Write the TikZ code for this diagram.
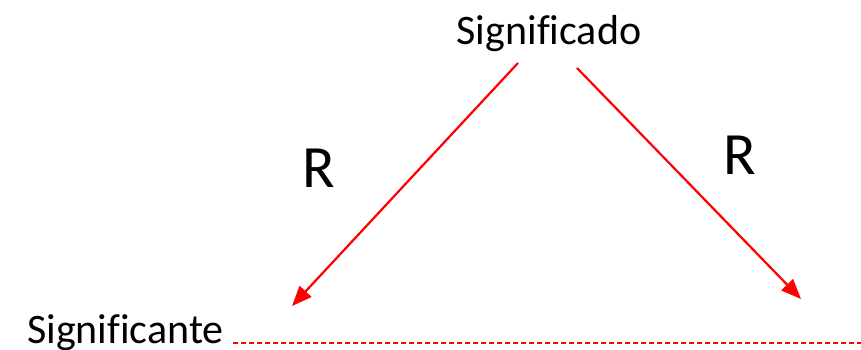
\documentclass[tikz,border=0pt]{standalone}
\usepackage{fontspec}
\setmainfont{Carlito}[Ligatures=NoCommon]
\usetikzlibrary{arrows.meta}
\begin{document}
\begin{tikzpicture}[x=1pt,y=-1pt,
  lbl/.style={inner sep=0pt,font=\fontsize{42}{42}\selectfont},
  rlbl/.style={inner sep=0pt,font=\fontsize{60}{60}\selectfont},
  rel/.style={draw=red,line width=2.2pt,-{Triangle[length=20pt,width=16pt]}},
  dashline/.style={draw=red,line width=1.1pt,dash pattern=on 5pt off 3pt}]
\useasboundingbox (0,0) rectangle (861,350);
\node[lbl,anchor=base] (sdo) at (549,45) {Significado};
\node[lbl,anchor=base west] (ste) at (27,343) {Significante};
\node[rlbl,anchor=base] (r1) at (319,187) {R};
\node[rlbl,anchor=base] (r2) at (740,174) {R};
\coordinate (a1s) at (518,63);
\coordinate (a1e) at (292,306);
\coordinate (a2s) at (577,68);
\coordinate (a2e) at (801,299);
\coordinate (ds) at (233,343);
\coordinate (de) at (861,343);
\draw[rel] (a1s) -- (a1e);
\draw[rel] (a2s) -- (a2e);
\draw[dashline] (ds) -- (de);
\end{tikzpicture}
\end{document}
